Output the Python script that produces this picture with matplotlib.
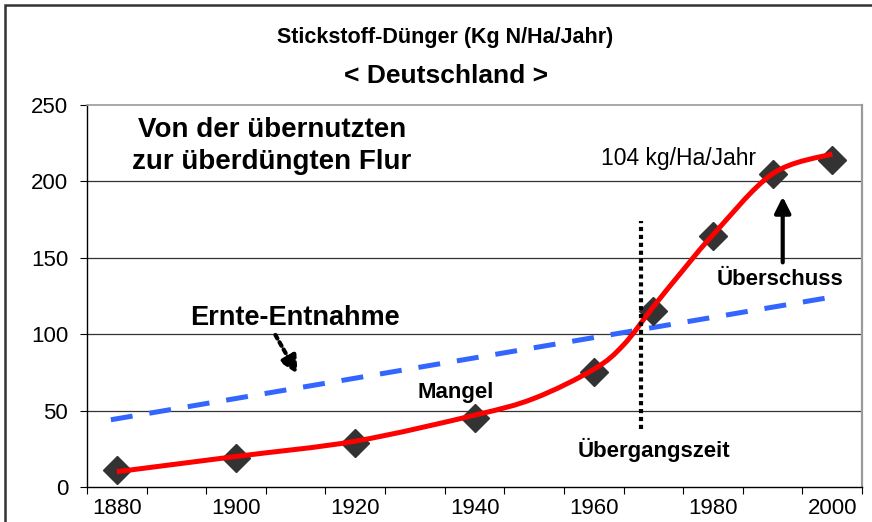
import numpy as np
import matplotlib
matplotlib.use("Agg")
import matplotlib.pyplot as plt
from matplotlib.path import Path
from matplotlib.patches import PathPatch, Rectangle

plt.rcParams['font.family'] = ['Liberation Sans', 'DejaVu Sans']

# ---- data ----
point_years = [1880, 1900, 1920, 1940, 1960, 1970, 1980, 1990, 2000]
point_vals = [11, 19, 29, 45, 75, 115, 164, 205, 214]

curve_years = [1880, 1900, 1920, 1940, 1950, 1960, 1965, 1970, 1975, 1980, 1990, 2000]
curve_vals = [10, 20, 30, 47, 58, 77, 93, 118, 142, 165, 205, 218]

harvest_years = [1879, 2001]
harvest_vals = [44, 125]

transition_year = 1968
transition_span = [38, 174]

xtick_years = [1880, 1900, 1920, 1940, 1960, 1980, 2000]
xtick_labels = ['1880', '1900', '1920', '1940', '1960', '1980', '2000']
ytick_vals = [0, 50, 100, 150, 200, 250]

title_text = 'Stickstoff-Dünger (Kg N/Ha/Jahr)'
subtitle_text = '< Deutschland >'

W, H = 872, 522
fig = plt.figure(figsize=(W / 100, H / 100), dpi=100)
ax = fig.add_axes([87 / W, 35 / H, 775 / W, 382 / H])
ax.set_xlim(1875, 2005)
ax.set_ylim(0, 250)

# grid
for v in ytick_vals[1:-1]:
    ax.axhline(v, color='#333333', lw=0.9, zorder=1)

# spines
ax.spines['left'].set_color('black')
ax.spines['left'].set_linewidth(1.0)
ax.spines['bottom'].set_color('black')
ax.spines['bottom'].set_linewidth(1.0)
ax.spines['right'].set_color('#9a9a9a')
ax.spines['right'].set_linewidth(1.6)
ax.spines['top'].set_color('#9a9a9a')
ax.spines['top'].set_linewidth(1.2)

# ticks
ax.set_yticks(ytick_vals)
ax.tick_params(axis='y', direction='out', length=5, width=0.8, pad=8.5, labelsize=16)
ax.set_xticks(xtick_years)
ax.set_xticklabels(xtick_labels)
ax.set_xticks(np.arange(1875, 2006, 10), minor=True)
ax.tick_params(axis='x', which='major', length=0, pad=8, labelsize=16)
ax.tick_params(axis='x', which='minor', direction='out', length=5, width=0.8)

# blue dashed harvest line
ax.plot(harvest_years, harvest_vals, color='#3366FF', lw=3.6,
        dashes=(4.4, 3.4), solid_capstyle='butt', zorder=3)

# diamonds
ax.plot(point_years, point_vals, linestyle='none', marker='D', markersize=14,
        color='#333333', zorder=4)

# smooth red curve (Catmull-Rom -> cubic Bezier)
pts = np.column_stack([curve_years, curve_vals]).astype(float)
verts = [tuple(pts[0])]
codes = [Path.MOVETO]
n = len(pts)
for i in range(n - 1):
    p0 = pts[i - 1] if i > 0 else pts[i]
    p1 = pts[i]
    p2 = pts[i + 1]
    p3 = pts[i + 2] if i + 2 < n else pts[i + 1]
    c1 = p1 + (p2 - p0) / 6.0
    c2 = p2 - (p3 - p1) / 6.0
    verts += [tuple(c1), tuple(c2), tuple(p2)]
    codes += [Path.CURVE4] * 3
ax.add_patch(PathPatch(Path(verts, codes), fill=False, edgecolor='#FF0000',
                       lw=3.6, zorder=5, capstyle='butt'))

# vertical dotted transition line
ax.plot([transition_year, transition_year], transition_span, color='black',
        lw=3.0, dashes=(1, 0.9), zorder=6)

# annotations
ax.text(1906, 233.5, 'Von der übernutzten', ha='center', va='center',
        fontsize=20, fontweight='bold', zorder=7)
ax.text(1906, 212.5, 'zur überdüngten Flur', ha='center', va='center',
        fontsize=20, fontweight='bold', zorder=7)
ax.text(1961.2, 215, '104 kg/Ha/Jahr', ha='left', va='center', fontsize=16.5, zorder=7)
ax.text(1980.6, 135.5, 'Überschuss', ha='left', va='center', fontsize=16,
        fontweight='bold', zorder=7)
ax.text(1892.3, 110.6, 'Ernte-Entnahme', ha='left', va='center', fontsize=19.5,
        fontweight='bold', zorder=7)
ax.text(1936.8, 62, 'Mangel', ha='center', va='center', fontsize=16,
        fontweight='bold', zorder=7)
ax.text(1970.1, 24.2, 'Übergangszeit', ha='center', va='center', fontsize=16,
        fontweight='bold', zorder=7)

ax.annotate('', xy=(1991.7, 190), xytext=(1991.7, 147),
            arrowprops=dict(arrowstyle='-|>', lw=3, color='black',
                            mutation_scale=24, shrinkA=0, shrinkB=0), zorder=7)
ax.annotate('', xy=(1910.3, 74), xytext=(1906.6, 99.5),
            arrowprops=dict(arrowstyle='-|>', lw=3, color='black', linestyle=(0, (1, 1)),
                            mutation_scale=26, shrinkA=0, shrinkB=0), zorder=7)

# titles
fig.text(445 / W, 1 - 38 / H, title_text, ha='center', va='center',
         fontsize=15.5, fontweight='bold')
fig.text(446 / W, 1 - 76 / H, subtitle_text, ha='center', va='center',
         fontsize=19, fontweight='bold')

# outer frame (cut at right and bottom)
fig.add_artist(Rectangle((5 / W, -0.2), 1.5, 1.2 - 5 / H, transform=fig.transFigure,
                         fill=False, edgecolor='#333333', lw=1.8))

fig.savefig('out.png', dpi=100)
